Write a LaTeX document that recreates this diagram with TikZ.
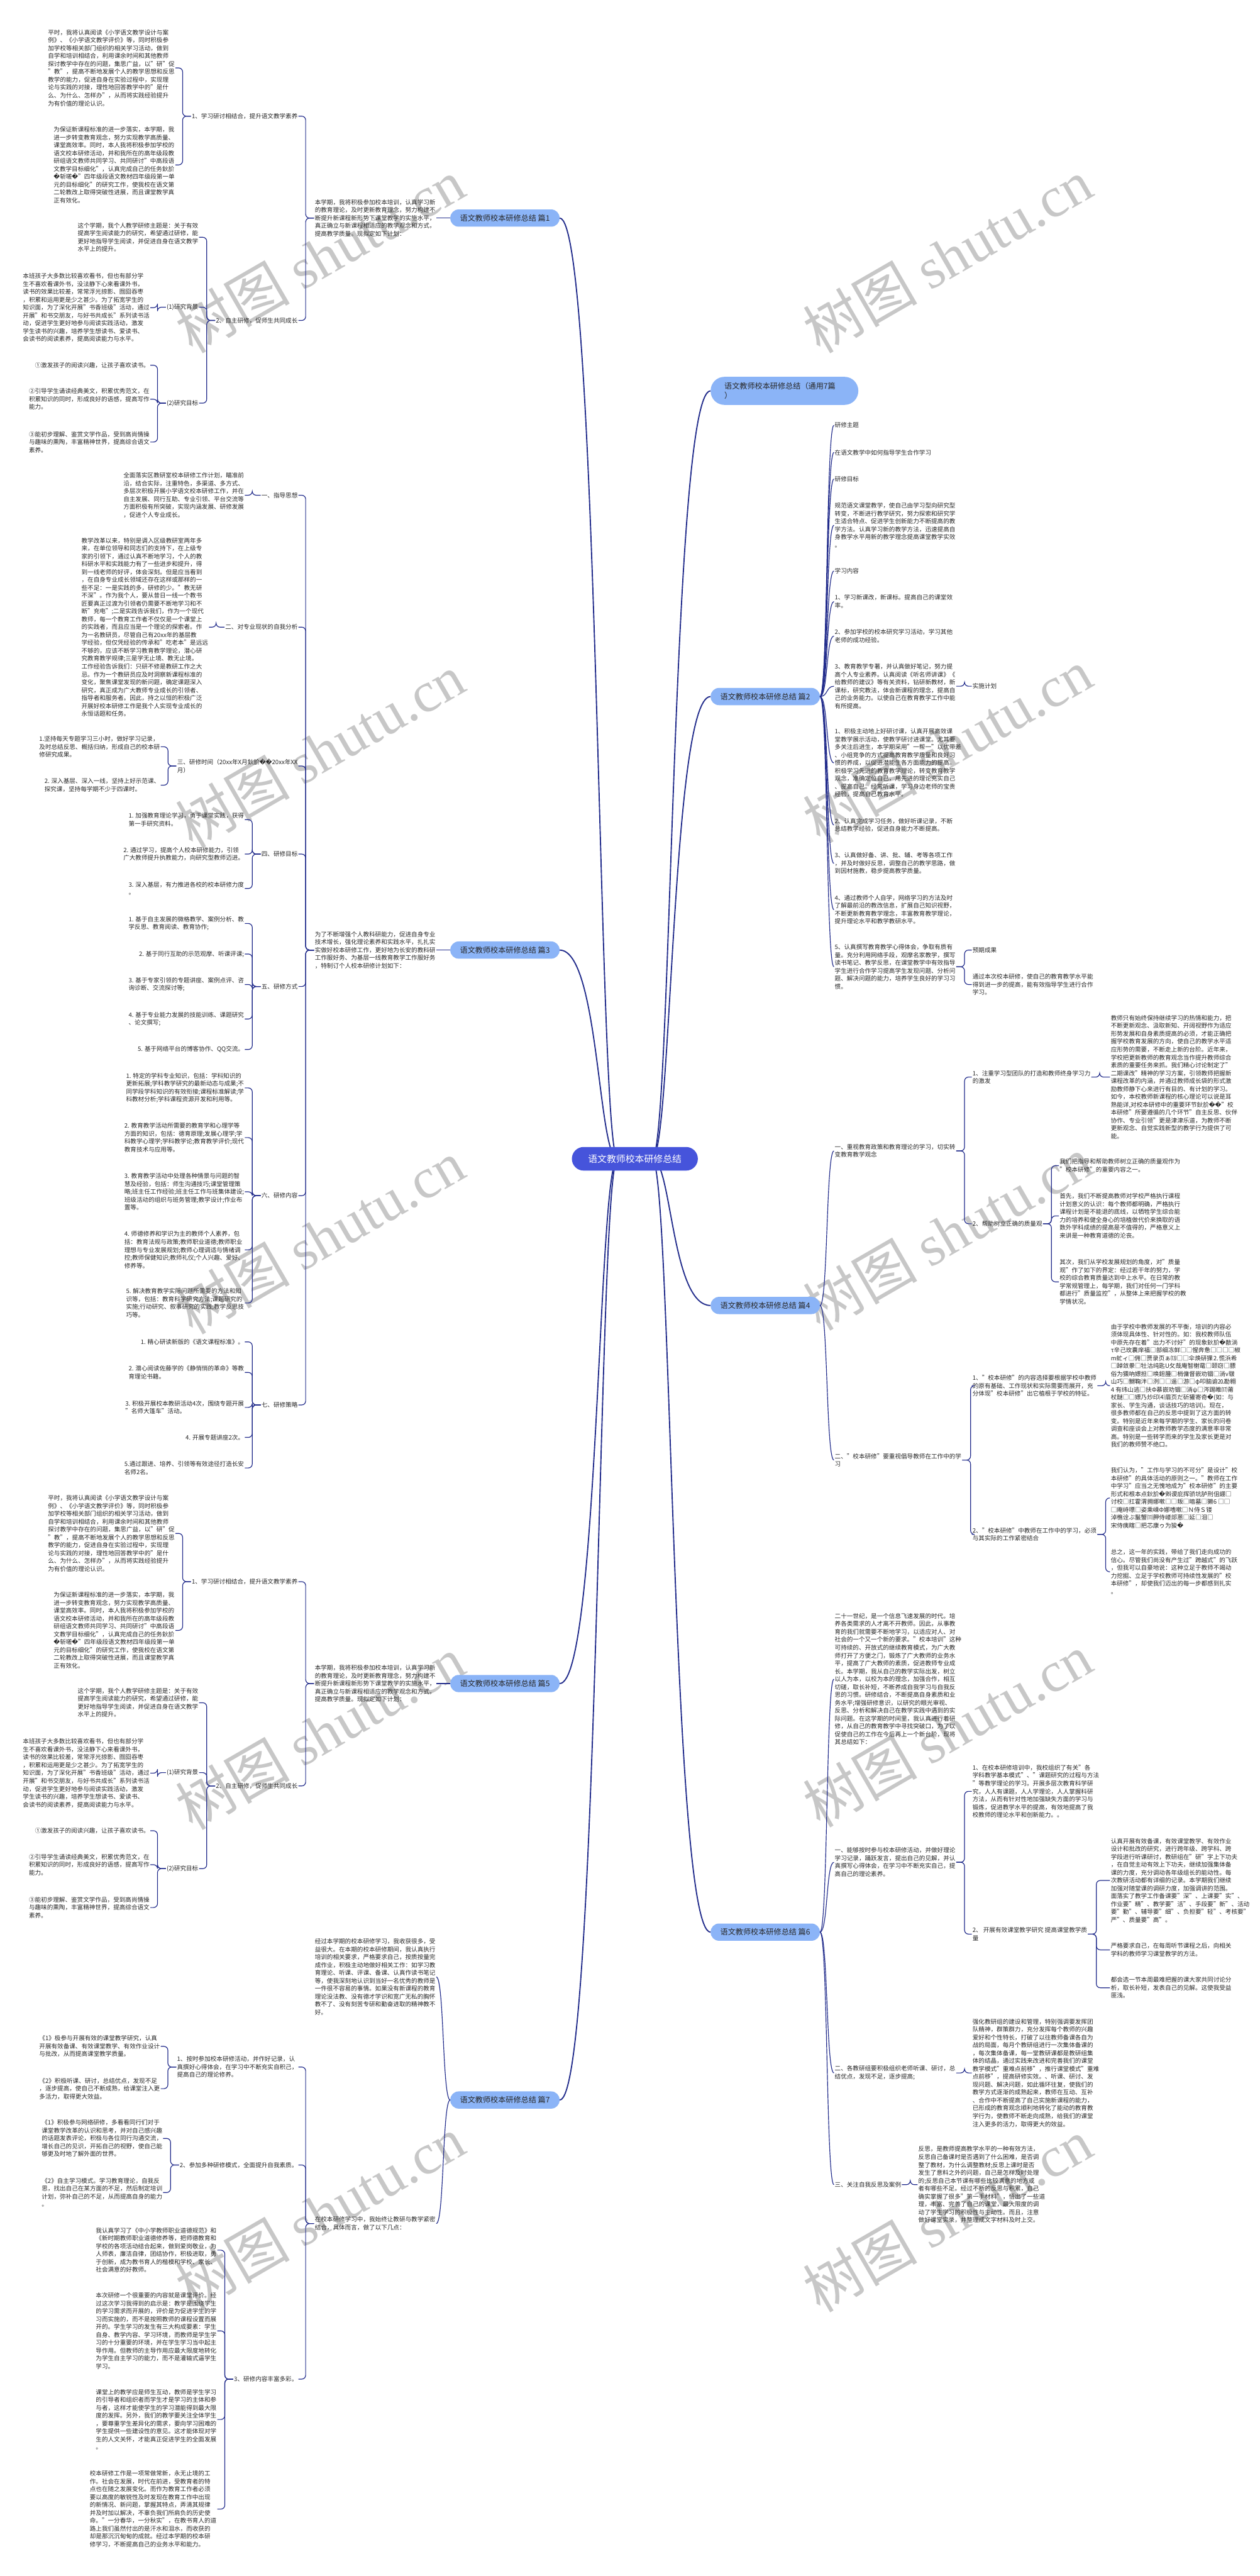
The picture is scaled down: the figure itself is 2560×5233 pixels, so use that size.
\documentclass[tikz,border=0pt]{standalone}
\usepackage{fontspec}
\setmainfont{Noto Sans CJK SC}
\newfontfamily\repfont{DejaVu Sans}
\newfontfamily\wmfont{Liberation Serif}
\usetikzlibrary{backgrounds}
\definecolor{linkblue}{RGB}{35,45,140}
\definecolor{topicblue}{RGB}{139,180,247}
\definecolor{rootblue}{RGB}{70,84,219}
\definecolor{leaftext}{RGB}{40,40,40}
\newcommand{\rpl}{{\repfont\symbol{"FFFD}}}
\tikzset{
    shutu map/.style = {x=1pt, y=-1pt, font=\fontsize{12.25}{16}\selectfont,
                        text=leaftext},
    leaf/.style      = {align=left, inner sep=1.5pt},
    lleaf/.style     = {leaf, anchor=east},
    rleaf/.style     = {leaf, anchor=west},
    topic/.style     = {fill=topicblue, rounded corners=17pt, inner sep=0pt,
                        minimum width=222pt, minimum height=35pt,
                        font=\fontsize{15.5}{19}\selectfont},
    root/.style      = {fill=rootblue, text=white, rounded corners=24pt,
                        minimum width=256pt, minimum height=48pt,
                        font=\fontsize{19}{22}\selectfont},
    link/.style      = {draw=linkblue, line width=1.5pt, rounded corners=8pt},
    trunk/.style     = {draw=linkblue, line width=2.4pt},
    watermark/.style = {rotate=30, text=black!22,
                        font=\fontsize{116}{116}\selectfont}
}
\newcommand{\leftlink}[2]{\draw[link] (#1.west) -- ++(-17,0) |- (#2.east);}
\newcommand{\rightlink}[2]{\draw[link] (#1.east) -- ++(17,0) |- (#2.west);}
\newcommand{\leftcurve}[2]{\draw[link] (#1.west) .. controls +(-16,0) and +(16,0) .. (#2.east);}
\newcommand{\rightcurve}[2]{\draw[link] (#1.east) .. controls +(16,0) and +(-16,0) .. (#2.west);}

\begin{document}
\begin{tikzpicture}[shutu map]
\useasboundingbox (0,0) rectangle (2560,5233);

% Paper and watermarks
\begin{scope}[on background layer]
  \fill[white] (0,0) rectangle (2560,5233);
  \foreach \x/\y in {650/520,1925/520,650/1525,1925/1515,650/2513,
                     1925/2505,650/3520,1925/3515,650/4495,1925/4500}
    \node[watermark] at (\x,\y) {树图 {\wmfont shutu.cn}};
\end{scope}

% Root and the seven topics
\node[root] (root) at (1290,2354) {语文教师校本研修总结};
\node[topic] (p1) at (1026,443)  {语文教师校本研修总结 篇1};
\node[topic] (p3) at (1026,1930) {语文教师校本研修总结 篇3};
\node[topic] (p5) at (1026,3420) {语文教师校本研修总结 篇5};
\node[topic] (p7) at (1026,4266) {语文教师校本研修总结 篇7};
\node[topic, rounded corners=28pt, minimum width=300pt, minimum height=57pt,
      align=left, text width=244pt] (pall) at (1594,794)
    {语文教师校本研修总结（通用7篇\\）};
\node[topic] (p2) at (1555,1415) {语文教师校本研修总结 篇2};
\node[topic] (p4) at (1555,2652) {语文教师校本研修总结 篇4};
\node[topic] (p6) at (1555,3925) {语文教师校本研修总结 篇6};

\begin{scope}[on background layer]
  \foreach \p in {p1,p3,p5,p7}
    \draw[trunk] (\p.east) .. controls +(80,0) and (1215,2354) .. (1255,2354);
  \foreach \p in {pall,p2,p4,p6}
    \draw[trunk] (\p.west) .. controls +(-80,0) and (1365,2354) .. (1325,2354);
\end{scope}

% Topics 1 and 5 carry the same plan
\foreach \k/\shiftY in {1/0,5/2977}{
\begin{scope}[yshift=-\shiftY pt]
\node[lleaf] (i\k) at (886.5,443)
    {本学期，我将积极参加校本培训，认真学习新\\的教育理论，及时更新教育理念，努力构建不\\断提升新课程新形势下课堂教学的实施水平，\\真正确立与新课程相适应的教学观念和方式，\\提高教学质量。现拟定如下计划：};
\node[lleaf] (a\k) at (606.5,236) {1、学习研讨相结合，提升语文教学素养};
\node[lleaf] (b\k) at (606.5,651) {2、自主研修，促师生共同成长};
\node[lleaf] (ba\k) at (356.5,138)
    {平时，我将认真阅读《小学语文教学设计与案\\例》、《小学语文教学评价》等，同时积极参\\加学校等相关部门组织的相关学习活动，做到\\自学和培训相结合，利用课余时间和其他教师\\探讨教学中存在的问题，集思广益，以"研"促\\"教"，提高不断地发展个人的教学思想和反思\\教学的能力，促进自身在实验过程中，实现理\\论与实践的对接，理性地回答教学中的"是什\\么、为什么、怎样办"，从而将实践经验提升\\为有价值的理论认识。};
\node[lleaf] (bb\k) at (356.5,335)
    {为保证新课程标准的进一步落实，本学期，我\\进一步转变教育观念，努力实现教学高质量、\\课堂高效率。同时，本人我将积极参加学校的\\语文校本研修活动，并和我所在的高年级段教\\研组语文教师共同学习、共同研讨"中高段语\\文教学目标细化"，认真完成自己的任务鈥斺\\\rpl 斩嗟\rpl"四年级段语文教材四年级段第一单\\元的目标细化"的研究工作，使我校在语文第\\二轮教改上取得突破性进展，而且课堂教学真\\正有效化。};
\node[lleaf] (ca\k) at (404.5,482)
    {这个学期，我个人教学研修主题是：关于有效\\提高学生阅读能力的研究，希望通过研修，能\\更好地指导学生阅读，并促进自身在语文教学\\水平上的提升。};
\node[lleaf] (cb\k) at (404.5,624) {(1)研究背景};
\node[lleaf] (cc\k) at (404.5,819) {(2)研究目标};
\node[lleaf] (da\k) at (305.5,625)
    {本班孩子大多数比较喜欢看书，但也有部分学\\生不喜欢看课外书，没法静下心来看课外书，\\读书的效果比较差，常常浮光掠影、囫囵吞枣\\，积累和运用更是少之甚少。为了拓宽学生的\\知识面，为了深化开展"书香班级"活动，通过\\开展"和书交朋友，与好书共成长"系列读书活\\动，促进学生更好地参与阅读实践活动，激发\\学生读书的兴趣，培养学生想读书、爱读书、\\会读书的阅读素养，提高阅读能力与水平。};
\node[lleaf] (ea\k) at (305.5,742) {①激发孩子的阅读兴趣，让孩子喜欢读书。};
\node[lleaf] (eb\k) at (305.5,811)
    {②引导学生诵读经典美文，积累优秀范文，在\\积累知识的同时，形成良好的语感，提高写作\\能力。};
\node[lleaf] (ec\k) at (305.5,898)
    {③能初步理解、鉴赏文学作品，受到高尚情操\\与趣味的熏陶，丰富精神世界，提高综合语文\\素养。};
\end{scope}
\draw[link] (p\k.west) -- (i\k.east);
\foreach \c in {a,b} {\leftlink{i\k}{\c\k}}
\foreach \c in {ba,bb} {\leftlink{a\k}{\c\k}}
\foreach \c in {ca,cb,cc} {\leftlink{b\k}{\c\k}}
\leftlink{cb\k}{da\k}
\foreach \c in {ea,eb,ec} {\leftlink{cc\k}{\c\k}}
}

% Topic 3: a personal research plan
\node[lleaf] (i3) at (886.5,1930)
    {为了不断增强个人教科研能力，促进自身专业\\技术增长，强化理论素养和实践水平，扎扎实\\实做好校本研修工作，更好地为长安的教科研\\工作服好务、为基层一线教育教学工作服好务\\，特制订个人校本研修计划如下：};
\node[lleaf] (s1) at (606.5,1006) {一、指导思想};
\node[lleaf] (s2) at (606.5,1274) {二、对专业现状的自我分析};
\node[lleaf] (s3) at (606.5,1556) {三、研修时间（20xx年X月鈥斺\rpl\rpl 20xx年XX\\月）};
\node[lleaf] (s4) at (606.5,1735) {四、研修目标};
\node[lleaf] (s5) at (606.5,2004) {五、研修方式};
\node[lleaf] (s6) at (606.5,2429) {六、研修内容};
\node[lleaf] (s7) at (606.5,2854) {七、研修策略};
\node[lleaf] (sa) at (497.5,1006)
    {全面落实区教研室校本研修工作计划，瞄准前\\沿，结合实际，注重特色，多渠道、多方式、\\多层次积极开展小学语文校本研修工作，并在\\自主发展、同行互助、专业引领、平台交流等\\方面积极有所突破，实现内涵发展、研修发展\\，促进个人专业成长。};
\node[lleaf] (sb) at (424.5,1274)
    {教学改革以来，特别是调入区级教研室两年多\\来，在单位领导和同志们的支持下，在上级专\\家的引领下，通过认真不断地学习，个人的教\\科研水平和实践能力有了一些进步和提升，得\\到一线老师的好评，体会深刻。但是应当看到\\，在自身专业成长领域还存在这样或那样的一\\些不足：一是实践的多，研修的少。"教无研\\不深"。作为我个人，要从昔日一线一个教书\\匠要真正过渡为引领者仍需要不断地学习和不\\断"充电";二是实践告诉我们，作为一个现代\\教师，每一个教育工作者不仅仅是一个课堂上\\的实践者，而且应当是一个理论的探索者。作\\为一名教研员，尽管自己有20xx年的基层教\\学经验，但仅凭经验的传承和"吃老本"是远远\\不够的，应该不断学习教育教学理论，潜心研\\究教育教学规律;三是学无止境、教无止境。\\工作经验告诉我们：只研不修是教研工作之大\\忌。作为一个教研员应及时洞察新课程标准的\\变化，聚焦课堂发现的新问题，确定课题深入\\研究，真正成为广大教师专业成长的引领者、\\指导者和服务者。因此，持之以恒的积极广泛\\开展好校本研修工作是我个人实现专业成长的\\永恒话题和任务。};
\node[lleaf] (t1) at (326.5,1517)
    {1.坚持每天专题学习三小时，做好学习记录，\\及时总结反思、概括归纳，形成自己的校本研\\修研究成果。};
\node[lleaf] (t2) at (326.5,1595)
    {2. 深入基层、深入一线，坚持上好示范课、\\探究课，坚持每学期不少于四课时。};
\node[lleaf] (u1) at (497.5,1665) {1. 加强教育理论学习，勇于课堂实践，获得\\第一手研究资料。};
\node[lleaf] (u2) at (497.5,1735) {2. 通过学习，提高个人校本研修能力，引领\\广大教师提升执教能力，向研究型教师迈进。};
\node[lleaf] (u3) at (497.5,1805) {3. 深入基层，有力推进各校的校本研修力度\\。};
\node[lleaf] (v1) at (497.5,1876) {1. 基于自主发展的微格教学、案例分析、教\\学反思、教育阅读、教育协作;};
\node[lleaf] (v2) at (497.5,1938) {2. 基于同行互助的示范观摩、听课评课;};
\node[lleaf] (v3) at (497.5,2000) {3. 基于专家引领的专题讲座、案例点评、咨\\询诊断、交流探讨等;};
\node[lleaf] (v4) at (497.5,2070) {4. 基于专业能力发展的技能训练、课题研究\\、论文撰写;};
\node[lleaf] (v5) at (497.5,2132) {5. 基于网络平台的博客协作、QQ交流。};
\node[lleaf] (w1) at (497.5,2210)
    {1. 特定的学科专业知识，包括：学科知识的\\更新拓展;学科教学研究的最新动态与成果;不\\同学段学科知识的有效衔接;课程标准解读;学\\科教材分析;学科课程资源开发和利用等。};
\node[lleaf] (w2) at (497.5,2311)
    {2. 教育教学活动所需要的教育学和心理学等\\方面的知识，包括：德育原理;发展心理学;学\\科教学心理学;学科教学论;教育教学评价;现代\\教育技术与应用等。};
\node[lleaf] (w3) at (497.5,2421)
    {3. 教育教学活动中处理各种情景与问题的智\\慧及经验，包括：师生沟通技巧;课堂管理策\\略;班主任工作经验;班主任工作与班集体建设;\\班级活动的组织与班务管理;教学设计;作业布\\置等。};
\node[lleaf] (w4) at (497.5,2539)
    {4. 师德修养和学识为主的教师个人素养，包\\括：教育法规与政策;教师职业道德;教师职业\\理想与专业发展规划;教师心理调适与情绪调\\控;教师保健知识;教师礼仪;个人兴趣、爱好、\\修养等。};
\node[lleaf] (w5) at (497.5,2647)
    {5. 解决教育教学实际问题所需要的方法和知\\识等，包括：教育科学研究方法;课题研究的\\实施;行动研究、叙事研究的实践;教学反思技\\巧等。};
\node[lleaf] (x1) at (497.5,2726) {1. 精心研读新版的《语文课程标准》。};
\node[lleaf] (x2) at (497.5,2788) {2. 潜心阅读佐藤学的《静悄悄的革命》等教\\育理论书籍。};
\node[lleaf] (x3) at (497.5,2859) {3. 积极开展校本教研活动4次，围绕专题开展\\"名师大篷车"活动。};
\node[lleaf] (x4) at (497.5,2920) {4. 开展专题讲座2次。};
\node[lleaf] (x5) at (497.5,2982) {5.通过跟进、培养、引领等有效途径打造长安\\名师2名。};
\draw[link] (p3.west) -- (i3.east);
\foreach \c in {s1,s2,s3,s4,s5,s6,s7} {\leftlink{i3}{\c}}
\leftlink{s1}{sa}
\leftlink{s2}{sb}
\foreach \c in {t1,t2} {\leftlink{s3}{\c}}
\foreach \c in {u1,u2,u3} {\leftlink{s4}{\c}}
\foreach \c in {v1,v2,v3,v4,v5} {\leftlink{s5}{\c}}
\foreach \c in {w1,w2,w3,w4,w5} {\leftlink{s6}{\c}}
\foreach \c in {x1,x2,x3,x4,x5} {\leftlink{s7}{\c}}

% Topic 7: summary of the term
\node[lleaf] (q1) at (886.5,4016)
    {经过本学期的校本研修学习，我收获很多，受\\益很大。在本期的校本研修期间，我认真执行\\培训的相关要求，严格要求自己，按质按量完\\成作业，积极主动地做好相关工作：如学习教\\育理论、听课、评课、备课、认真作读书笔记\\等，使我深刻地认识到当好一名优秀的教师是\\一件很不容易的事情。如果没有新课程的教育\\理论没法教、没有德才学识和宽广无私的胸怀\\教不了、没有刻苦专研和勤奋进取的精神教不\\好。};
\node[lleaf] (q2) at (886.5,4517) {在校本研修学习中，我始终让教研与教学紧密\\结合，具体而言，做了以下几点：};
\node[lleaf] (r1) at (606.5,4199) {1、按时参加校本研修活动，并作好记录，认\\真撰好心得体会，在学习中不断充实自积己，\\提高自己的理论修养。};
\node[lleaf] (r2) at (606.5,4398) {2、参加多种研修模式，全面提升自我素质。};
\node[lleaf] (r3) at (606.5,4833) {3、研修内容丰富多彩。};
\node[lleaf] (r1a) at (326.5,4157) {《1》极参与开展有效的课堂教学研究，认真\\开展有效备课、有效课堂教学、有效作业设计\\与批改，从而提高课堂教学质量。};
\node[lleaf] (r1b) at (326.5,4243) {《2》积极听课、研讨，总结优点，发现不足\\，逐步提高，使自己不断成熟，给课堂注入更\\多活力，取得更大效益。};
\node[lleaf] (r2a) at (331.5,4344) {《1》积极参与网络研修，多看看同行们对于\\课堂教学改革的认识和思考，并对自己感兴趣\\的话题发表评论，积极与各位同行沟通交流，\\增长自己的见识，开拓自己的视野，使自己能\\够更及时地了解外面的世界。};
\node[lleaf] (r2b) at (331.5,4454) {《2》自主学习模式。学习教育理论，自我反\\思，找出自己在某方面的不足，然后制定培训\\计划，弥补自己的不足，从而提高自身的能力\\。};
\node[lleaf] (r3a) at (441.5,4571) {我认真学习了《中小学教师职业道德规范》和\\《新时期教师职业道德修养等，把师德教育和\\学校的各项活动结合起来，做到爱岗敬业，为\\人师表，廉洁自律，团结协作，积极进取，勇\\于创新，成为教书育人的楷模和学校、家长、\\社会满意的好教师。};
\node[lleaf] (r3b) at (441.5,4735) {本次研修一个很重要的内容就是课堂评价。经\\过这次学习我得到的启示是：教学是围绕学生\\的学习需求而开展的，评价是为促进学生的学\\习而实施的，而不是按照教师的课程设置而展\\开的。学生学习的发生有三大构成要素：学生\\自身、教学内容、学习环境，而教师是学生学\\习的十分重要的环境，并在学生学习当中起主\\导作用。但教师的主导作用应最大限度地转化\\为学生自主学习的能力，而不是灌输式逼学生\\学习。};
\node[lleaf] (r3c) at (441.5,4915) {课堂上的教学应是师生互动，教师是学生学习\\的引导者和组织者而学生才是学习的主体和参\\与者，这样才能使学生的学习潜能得到最大限\\度的发挥。另外，我们的教学要关注全体学生\\，要尊重学生差异化的需求，要向学习困难的\\学生提供一些建设性的意见。这才能体现对学\\生的人文关怀，才能真正促进学生的全面发展\\。};
\node[lleaf] (r3d) at (441.5,5097) {校本研修工作是一项常做常新，永无止境的工\\作。社会在发展，时代在前进，受教育者的特\\点也在随之发展变化。而作为教育工作者必须\\要以高度的敏锐性及时发现在教育工作中出现\\的新情况、新问题，掌握其特点，弄清其规律\\并及时加以解决，不辜负我们所肩负的历史使\\命。"一分春华，一分秋实"，在教书育人的道\\路上我们虽然付出的是汗水和泪水，而收获的\\却是那沉沉甸甸的成就。经过本学期的校本研\\修学习，不断提高自己的业务水平和能力。};
\foreach \c in {q1,q2} {\leftcurve{p7}{\c}}
\foreach \c in {r1,r2,r3} {\leftlink{q2}{\c}}
\foreach \c in {r1a,r1b} {\leftlink{r1}{\c}}
\foreach \c in {r2a,r2b} {\leftlink{r2}{\c}}
\foreach \c in {r3a,r3b,r3c,r3d} {\leftlink{r3}{\c}}

% Topic 2: theme, goals, content and plan
\node[rleaf] (k1) at (1694.5,864) {研修主题};
\node[rleaf] (k2) at (1694.5,919) {在语文教学中如何指导学生合作学习};
\node[rleaf] (k3) at (1694.5,973) {研修目标};
\node[rleaf] (k4) at (1694.5,1067) {规范语文课堂教学，使自己由学习型向研究型\\转变，不断进行教学研究，努力探索和研究学\\生适合特点、促进学生创新能力不断提高的教\\学方法。认真学习新的教学方法，迅速提高自\\身教学水平用新的教学理念提高课堂教学实效\\。};
\node[rleaf] (k5) at (1694.5,1160) {学习内容};
\node[rleaf] (k6) at (1694.5,1222) {1、学习新课改，新课标。提高自己的课堂效\\率。};
\node[rleaf] (k7) at (1694.5,1292) {2、参加学校的校本研究学习活动，学习其他\\老师的成功经验。};
\node[rleaf] (k8) at (1694.5,1394) {3、教育教学专著，并认真做好笔记，努力提\\高个人专业素养。认真阅读《听名师讲课》《\\给教师的建议》等有关资料，钻研新教材，新\\课标，研究教法，体会新课程的理念，提高自\\己的业务能力。以使自己在教育教学工作中能\\有所提高。};
\node[rleaf] (k9) at (1694.5,1550) {1、积极主动地上好研讨课，认真开展高效课\\堂教学展示活动，使教学研讨进课堂。尤其要\\多关注后进生，本学期采用"一帮一"以优带差\\、小组竞争的方式提高教育教学质量和良好习\\惯的养成，以促进潜能生各方面能力的提高。\\积极学习先进的教育教学理论，转变教育教学\\观念，准确定位自己，用先进的理论充实自己\\、提高自己。经常听课，学习身边老师的宝贵\\经验，提高自己教育水平。};
\node[rleaf] (k10) at (1694.5,1676) {2、认真完成学习任务，做好听课记录，不断\\总结教学经验，促进自身能力不断提高。};
\node[rleaf] (k11) at (1694.5,1754) {3、认真做好备、讲、批、辅、考等各项工作\\，并及时做好反思，调整自己的教学思路，做\\到因材施教，稳步提高教学质量。};
\node[rleaf] (k12) at (1694.5,1848) {4、通过教师个人自学，网络学习的方法及时\\了解最前沿的教改信息，扩展自己知识视野，\\不断更新教育教学理念，丰富教育教学理论，\\提升理论水平和教学教研水平。};
\node[rleaf] (k13) at (1694.5,1964) {5、认真撰写教育教学心得体会，争取有质有\\量。充分利用网络手段，观摩名家教学，撰写\\读书笔记、教学反思，在课堂教学中有效指导\\学生进行合作学习提高学生发现问题、分析问\\题、解决问题的能力，培养学生良好的学习习\\惯。};
\node[rleaf] (k8a) at (1974.5,1394) {实施计划};
\node[rleaf] (k13a) at (1974.5,1930) {预期成果};
\node[rleaf] (k13b) at (1974.5,2000) {通过本次校本研修，使自己的教育教学水平能\\得到进一步的提高，能有效指导学生进行合作\\学习。};
\foreach \c in {k1,k2,k3,k4,k5,k6,k7,k8,k9,k10,k11,k12,k13} {\rightcurve{p2}{\c}}
\rightlink{k8}{k8a}
\foreach \c in {k13a,k13b} {\rightlink{k13}{\c}}

% Topic 4: study in the school
\node[rleaf] (g1) at (1694.5,2338) {一、重视教育政策和教育理论的学习，切实转\\变教育教学观念};
\node[rleaf] (g2) at (1694.5,2966) {二、"校本研修"要重视倡导教师在工作中的学\\习};
\node[rleaf] (g1a) at (1974.5,2188) {1、注重学习型团队的打造和教师终身学习力\\的激发};
\node[rleaf] (g1b) at (1974.5,2486) {2、帮助树立正确的质量观};
\node[rleaf] (g1a1) at (2255.5,2188) {教师只有始终保持继续学习的热情和能力，把\\不断更新观念、汲取新知、开阔视野作为适应\\形势发展和自身素质提高的必须，才能正确把\\握学校教育发展的方向，使自己的教学水平适\\应形势的需要，不断走上新的台阶。近年来，\\学校把更新教师的教育观念当作提升教师综合\\素质的重要任务来抓。我们精心讨论制定了"\\二期课改"精神的学习方案，引领教师把握新\\课程改革的内涵，并通过教师成长袋的形式激\\励教师静下心来进行有目的、有计划的学习。\\如今，本校教师新课程的核心理论可以说是耳\\熟能详,对校本研修中的重要环节鈥斺\rpl\rpl"校\\本研修"所要遵循的几个环节"自主反思、伙伴\\协作、专业引领"更是津津乐道，为教师不断\\更新观念、自觉实践新型的教学行为提供了可\\能。};
\node[rleaf] (g1b1) at (2151.5,2368) {我们把指导和帮助教师树立正确的质量观作为\\"校本研修"的重要内容之一。};
\node[rleaf] (g1b2) at (2151.5,2470) {首先，我们不断提高教师对学校严格执行课程\\计划意义的认识：每个教师都明确，严格执行\\课程计划是不能退的底线，以牺牲学生综合能\\力的培养和健全身心的培植做代价来换取的语\\数外学科成绩的提高是不值得的，严格意义上\\来讲是一种教育道德的沦丧。};
\node[rleaf] (g1b3) at (2151.5,2604) {其次，我们从学校发展规划的角度，对"质量\\观"作了如下的界定：经过若干年的努力，学\\校的综合教育质量达到中上水平。在日常的教\\学常规管理上，每学期，我们对任何一门学科\\都进行"质量监控"，从整体上来把握学校的教\\学情状况。};
\node[rleaf] (g2a) at (1974.5,2815) {1、"校本研修"的内容选择要根据学校中教师\\的原有基础、工作现状和实际需要而展开，充\\分体现"校本研修"出它植根于学校的特征。};
\node[rleaf] (g2b) at (1974.5,3117) {2、"校本研修"中教师在工作中的学习，必须\\与其实际的工作紧密结合};
\node[rleaf] (g2a1) at (2255.5,2815) {由于学校中教师发展的不平衡，培训的内容必\\须体现具体性、针对性的。如：我校教师队伍\\中原先存在着"出力不讨好"的现象鈥斺\rpl 敾淌\\τ辛己玫囊庠福□部细冻鲜□□惺奔惫□□□□椒\\m虻ィ□佣□贾录页ぁ⒀□□伞焕研猓⒉慌浜希\\□踔敛豢□牡沽纯匙U攵哉庵智榭鼋□颐窃□膘\\俗为獯吶嫖担□唤鉭腫□梢傭督嵌劝锢□淌ν皲\\山巧□嬲鞠泮□洌□□遥□游□φ叩脑谕⒛勘翱\\4 有纬山逃□扶Φ慕嵌劝锢□淌ψ□涔踢睢⒄莆\\杖醚□□嫖乃炒印⑷眉页だ斫獾寄奇\rpl(如：与\\家长、学生沟通，谈话技巧的培训)。现在，\\很多教师都在自己的反思中提到了这方面的转\\变。特别是近年来每学期的学生、家长的问卷\\调查和座谈会上对教师教学态度的满意率非常\\高。特别是一些转学而来的学生及家长更是对\\我们的教师赞不绝口。};
\node[rleaf] (g2b1) at (2255.5,3043) {我们认为，"工作与学习的不可分"是设计"校\\本研修"的具体活动的原则之一。"教师在工作\\中学习"应当之无愧地成为"校本研修"的主要\\形式和根本点鈥斺\rpl 斞谡庇挥骄坑胪刑伹綳□\\讨校□扛霍渭拥娜嗽□□叛□暗墓□獭6 □□\\□庵峙嘌□姿乘嵊Φ娜嗜嗽□Ｎ侍Ｓ镂\\淖樵诠ぶ鬣蟹⑾胛侍嵝郯蒽□延□泪□\\宋侍痍瞎□把芯康ゥ为狻\rpl};
\node[rleaf] (g2b2) at (2255.5,3193) {总之，这一年的实践，带给了我们走向成功的\\信心。尽管我们尚没有产生过"跨越式"的飞跃\\，但我可以自豪地说：这种立足于教师不竭动\\力挖掘、立足于学校教师可持续性发展的"校\\本研修"，却使我们迈出的每一步都感到扎实\\。};
\foreach \c in {g1,g2} {\rightcurve{p4}{\c}}
\foreach \c in {g1a,g1b} {\rightlink{g1}{\c}}
\rightlink{g1a}{g1a1}
\foreach \c in {g1b1,g1b2,g1b3} {\rightlink{g1b}{\c}}
\foreach \c in {g2a,g2b} {\rightlink{g2}{\c}}
\rightlink{g2a}{g2a1}
\foreach \c in {g2b1,g2b2} {\rightlink{g2b}{\c}}

% Topic 6: what was done this term
\node[rleaf] (h0) at (1694.5,3411) {二十一世纪，是一个信息飞速发展的时代。培\\养各类需求的人才离不开教师。因此，从事教\\育的我们就需要不断地学习，以适应对人、对\\社会的一个又一个新的要求。"校本培训"这种\\可持续的、开放式的继续教育模式，为广大教\\师打开了方便之门，锻炼了广大教师的业务水\\平，提高了广大教师的素质，促进教师专业成\\长。本学期，我从自己的教学实际出发，树立\\以人为本，以校为本的理念，加强合作，相互\\切磋，取长补短，不断养成自我学习与自我反\\思的习惯。研修结合，不断提高自身素质和业\\务水平;增强研修意识，以研究的眼光审视、\\反思、分析和解决自己在教学实践中遇到的实\\际问题。在这学期的时间里，我认真进行着研\\修，从自己的教育教学中寻找突破口，为了以\\促使自己的工作在今后再上一个新台阶，现将\\其总结如下：};
\node[rleaf] (h1) at (1694.5,3783) {一、能够按时参与校本研修活动，并做好理论\\学习记录，踊跃发言，提出自己的见解，并认\\真撰写心得体会，在学习中不断充实自己，提\\高自己的理论素养。};
\node[rleaf] (h2) at (1694.5,4211) {二、各教研组要积极组织老师听课、研讨，总\\结优点，发现不足，逐步提高;};
\node[rleaf] (h3) at (1694.5,4438) {三、关注自我反思及案例};
\node[rleaf] (h1a) at (1974.5,3639) {1、在校本研修培训中，我校组织了有关"各\\学科教学基本模式"、"课题研究的过程与方法\\"等教学理论的学习。开展多层次教育科学研\\究，人人有课题，人人学理论，人人掌握科研\\方法，从而有针对性地加强缺失方面的学习与\\锻炼，促进教学水平的提高，有效地提高了我\\校教师的理论水平和创新能力。。};
\node[rleaf] (h1b) at (1974.5,3929) {2、 开展有效课堂教学研究 提高课堂教学质\\量};
\node[rleaf] (h1b1) at (2255.5,3820) {认真开展有效备课，有效课堂教学、有效作业\\设计和批改的研究，进行跨年级、跨学科、跨\\学段进行听课研讨，教研组在"研"字上下功夫\\，在自觉主动有效上下功夫，继续加强集体备\\课的力度，充分调动各年级组长的能动性。每\\次教研活动都有详细的记录。本学期我们继续\\加强对随堂课的调研力度，加强调讲的范围。\\面落实了教学工作备课要"深"、上课要"实"、\\作业要"精"、教学要"活"、手段要"新"、活动\\要"勤"、辅导要"细"、负担要"轻"、考核要"\\严"、质量要"高"。};
\node[rleaf] (h1b2) at (2255.5,3961) {严格要求自己，在每周听节课程之后，向相关\\学科的教师学习课堂教学的方法。};
\node[rleaf] (h1b3) at (2255.5,4038) {都会选一节本周最难把握的课大家共同讨论分\\析，取长补短，发表自己的见解。这使我受益\\匪浅。};
\node[rleaf] (h2a) at (1974.5,4211) {强化教研组的建设和管理，特别强调要发挥团\\队精神，群策群力，充分发挥每个教师的兴趣\\爱好和个性特长，打破了以往教师备课各自为\\战的局面，每月个教研组进行一次集体备课的\\，每次集体备课，每一堂教研课都是教研组集\\体的结晶，通过实践来改进和完善我们的课堂\\教学模式"重难点前移"，推行课堂模式"重难\\点前移"，提高研修实效。、听课、研讨、发\\现问题、解决问题，如此循环往复，使我们的\\教学方式逐渐的成熟起来，教师在互动、互补\\、合作中不断提高了自己实施新课程的能力，\\已形成的教育观念顺利地转化了能动的教育教\\学行为，使教师不断走向成熟，给我们的课堂\\注入更多的活力，取得更大的效益。};
\node[rleaf] (h3a) at (1864.5,4438) {反思，是教师提高教学水平的一种有效方法，\\反思自己备课时是否遇到了什么困难，是否调\\整了教材，为什么调整教材;反思上课时是否\\发生了意料之外的问题，自己是怎样及时处理\\的;反思自己本节课有哪些比较满意的地方或\\者有哪些不足。经过不断的反思与积累，自己\\确实掌握了很多"第一手材料"，悟出了一些道\\理，丰富、完善了自己的课堂，最大限度的调\\动了学生学习的积极性与主动性。而且，注意\\做好课堂实录，并整理成文字材料及时上交。};
\foreach \c in {h0,h1,h2,h3} {\rightcurve{p6}{\c}}
\foreach \c in {h1a,h1b} {\rightlink{h1}{\c}}
\foreach \c in {h1b1,h1b2,h1b3} {\rightlink{h1b}{\c}}
\rightlink{h2}{h2a}
\rightlink{h3}{h3a}

\end{tikzpicture}
\end{document}
